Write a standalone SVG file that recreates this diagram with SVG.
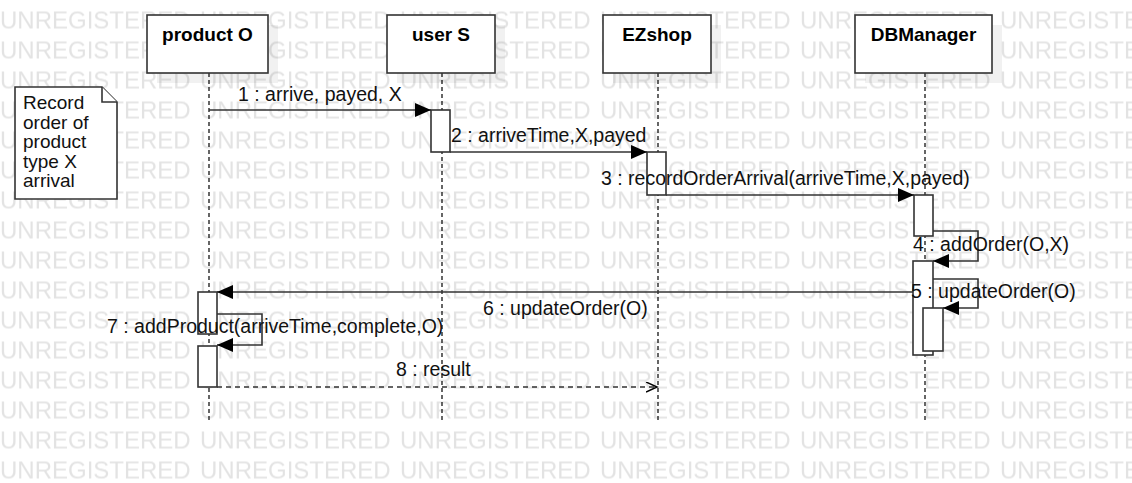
<svg xmlns="http://www.w3.org/2000/svg" width="1132" height="483" viewBox="0 0 1132 483">
<style>
.wm{font-family:"Liberation Sans",Arial,sans-serif;font-size:24px;fill:#e3e3e3}
.box{fill:#fff;stroke:#333;stroke-width:1.6}
.shadow{fill:#000;fill-opacity:0.055}
.title{font-family:"Liberation Sans",Arial,sans-serif;font-size:19px;font-weight:bold;fill:#000;text-anchor:middle}
.life{stroke:#000;stroke-width:1.2;stroke-dasharray:4 3;fill:none}
.act{fill:#fff;stroke:#333;stroke-width:1.6}
.msg{stroke:#333;stroke-width:1.6;fill:none}
.ret{stroke:#333;stroke-width:1.6;fill:none;stroke-dasharray:5 4}
.lbl{font-family:"Liberation Sans",Arial,sans-serif;font-size:19.5px;fill:#111}
.nt{font-family:"Liberation Sans",Arial,sans-serif;font-size:19px;fill:#111}
</style>
<defs>
<pattern id="wmp" patternUnits="userSpaceOnUse" x="0" y="8.5" width="200" height="30">
<text class="wm" x="0" y="20">UNREGISTERED</text>
</pattern>
<marker id="fill" markerUnits="userSpaceOnUse" markerWidth="18" markerHeight="14" refX="16" refY="7" orient="auto">
<path d="M0,0 L16,7 L0,14 Z" fill="#000"/>
</marker>
<marker id="open" markerUnits="userSpaceOnUse" markerWidth="14" markerHeight="12" refX="11" refY="5" orient="auto">
<path d="M0,0 L11,5 L0,10" fill="none" stroke="#000" stroke-width="1.5"/>
</marker>
</defs>
<rect width="1132" height="483" fill="#fff"/>
<rect width="1132" height="483" fill="url(#wmp)"/>

<g id="lifelines">
<line class="life" x1="209" y1="73" x2="209" y2="420"/>
<line class="life" x1="442" y1="73" x2="442" y2="420"/>
<line class="life" x1="658" y1="73" x2="658" y2="420"/>
<line class="life" x1="925" y1="73" x2="925" y2="420"/>
</g>

<g id="productO">
<rect class="shadow" x="157" y="25" width="121" height="58"/>
<rect class="box" x="147" y="15" width="121" height="58"/>
<text class="title" x="207.5" y="41">product O</text>
</g>
<g id="userS">
<rect class="shadow" x="397" y="25" width="108" height="58"/>
<rect class="box" x="387" y="15" width="108" height="58"/>
<text class="title" x="441" y="41">user S</text>
</g>
<g id="EZshop">
<rect class="shadow" x="613" y="25" width="108" height="58"/>
<rect class="box" x="603" y="15" width="108" height="58"/>
<text class="title" x="657" y="41">EZshop</text>
</g>
<g id="DBManager">
<rect class="shadow" x="865" y="25" width="137" height="58"/>
<rect class="box" x="855" y="15" width="137" height="58"/>
<text class="title" x="923.5" y="41">DBManager</text>
</g>

<g id="note">
<path class="box" d="M15,87 L102,87 L117,102 L117,199 L15,199 Z"/>
<path class="box" d="M102,87 L102,102 L117,102" fill="none"/>
<text class="nt" x="23" y="109">Record</text>
<text class="nt" x="23" y="129">order of</text>
<text class="nt" x="23" y="148">product</text>
<text class="nt" x="23" y="168">type X</text>
<text class="nt" x="23" y="187">arrival</text>
</g>

<g id="activations">
<rect class="act" x="431" y="110" width="19" height="42"/>
<rect class="act" x="647" y="152" width="19" height="43"/>
<rect class="act" x="914" y="195" width="19" height="41"/>
<rect class="act" x="913" y="261" width="20" height="94"/>
<rect class="act" x="923" y="308" width="20" height="43"/>
<rect class="act" x="198" y="292" width="19" height="42"/>
<rect class="act" x="198" y="346" width="19" height="41"/>
</g>

<g id="connectors">
<line class="msg" x1="209" y1="110" x2="431" y2="110" marker-end="url(#fill)"/>
<line class="msg" x1="450" y1="152" x2="647" y2="152" marker-end="url(#fill)"/>
<line class="msg" x1="666" y1="195" x2="914" y2="195" marker-end="url(#fill)"/>
<path class="msg" d="M933,231 H978 V261 H933" marker-end="url(#fill)"/>
<path class="msg" d="M933,279 H978 V308 H943" marker-end="url(#fill)"/>
<line class="msg" x1="913" y1="292" x2="217" y2="292" marker-end="url(#fill)"/>
<path class="msg" d="M217,314 H262 V345 H217" marker-end="url(#fill)"/>
<line class="ret" x1="217" y1="387" x2="657" y2="387" marker-end="url(#open)"/>
<text class="lbl" x="238" y="101">1 : arrive, payed, X</text>
<text class="lbl" x="451" y="142">2 : arriveTime,X,payed</text>
<text class="lbl" x="601" y="185">3 : recordOrderArrival(arriveTime,X,payed)</text>
<text class="lbl" x="913" y="251">4 : addOrder(O,X)</text>
<text class="lbl" x="911" y="298">5 : updateOrder(O)</text>
<text class="lbl" x="483" y="315">6 : updateOrder(O)</text>
<text class="lbl" x="107" y="333">7 : addProduct(arriveTime,complete,O)</text>
<text class="lbl" x="396" y="376">8 : result</text>
</g>
</svg>
